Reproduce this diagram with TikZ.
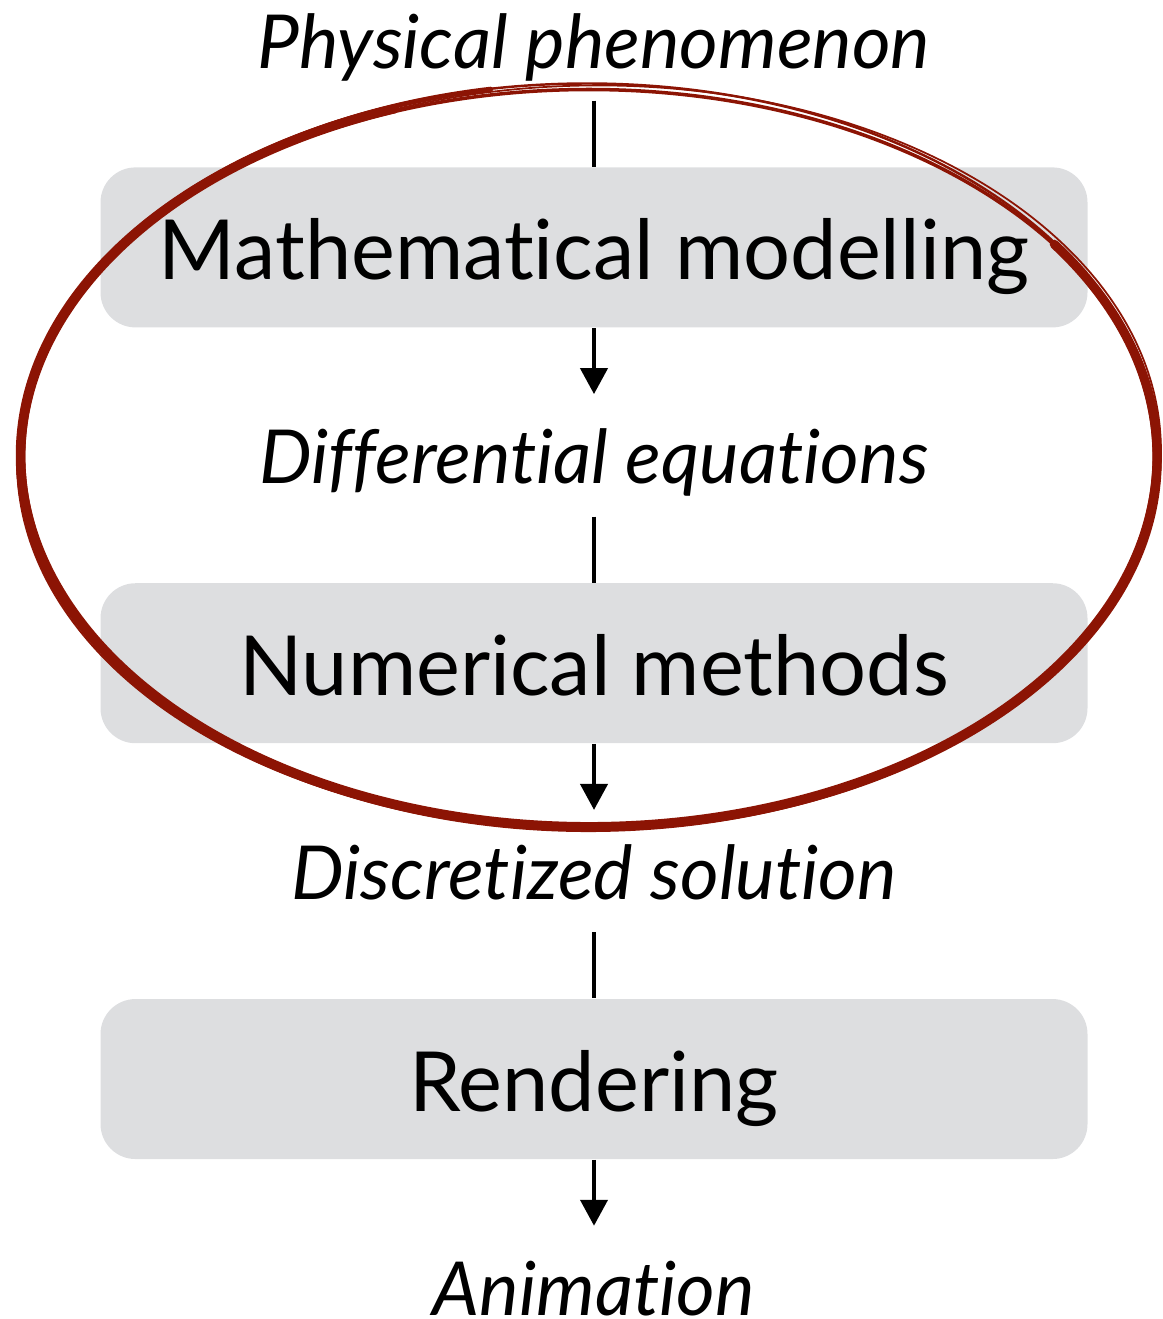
\documentclass[tikz,border=0pt]{standalone}
\usepackage{fontspec}
\setmainfont[Ligatures={NoCommon}]{Lato}
\usepackage{tikz}
\usetikzlibrary{arrows.meta,positioning}
\definecolor{boxgray}{RGB}{221, 222, 224}
\definecolor{ink}{RGB}{140, 20, 4}

\tikzset{
  stage/.style={fill=boxgray, rounded corners=0.35cm, minimum width=9.87cm,
    minimum height=1.6cm, inner sep=0pt, text height=1.12cm, text depth=0.48cm,
    font=\fontsize{23.6}{28}\selectfont},
  result/.style={minimum height=1.21cm, inner sep=0pt, text height=0.89cm,
    text depth=0.32cm, font=\itshape\fontsize{21.2}{26}\selectfont},
  flow/.style={line width=1.2pt},
  flowarrow/.style={line width=1.2pt, -{Triangle[width=0.27cm,length=0.26cm]}},
  pen/.style={ink, line cap=round}
}

\begin{document}
\begin{tikzpicture}[node distance=0.66cm]
  \useasboundingbox (0,0) rectangle (11.62,-13.19);

  \node[result] (phen) at (5.94,-0.395) {Physical phenomenon};
  \node[stage, below=of phen] (model) {Mathematical modelling};
  \node[result, below=of model] (diffeq) {Differential equations};
  \node[stage, below=of diffeq] (numer) {Numerical methods};
  \node[result, below=of numer] (discsol) {Discretized solution};
  \node[stage, below=of discsol] (render) {Rendering};
  \node[result, below=of render] (anim) {Animation};

  \draw[flow] (phen) -- (model);
  \draw[flowarrow] (model) -- (diffeq);
  \draw[flow] (diffeq) -- (numer);
  \draw[flowarrow] (numer) -- (discsol);
  \draw[flow] (discsol) -- (render);
  \draw[flowarrow] (render) -- (anim);

  % hand drawn ring round the first two stages
  \coordinate (c) at (5.89,-4.565);
  \draw[pen, line width=2.6pt] ([shift={(110:5.68 and 3.70)}]c)
    arc[start angle=110, end angle=395, x radius=5.68, y radius=3.70];
  \draw[pen, line width=1.4pt] ([shift={(100:5.66 and 3.73)}]c)
    arc[start angle=100, end angle=380, x radius=5.66, y radius=3.73];
  \draw[pen, line width=1pt] ([shift={(0,-0.03)}]c) ellipse[x radius=5.71, y radius=3.70];
  \draw[pen, line width=0.7pt] ([shift={(-0.02,0.01)}]c) ellipse[x radius=5.70, y radius=3.72];
  \draw[pen, line width=0.5pt, rotate around={1:(c)}] (c) ellipse[x radius=5.72, y radius=3.71];
\end{tikzpicture}
\end{document}
